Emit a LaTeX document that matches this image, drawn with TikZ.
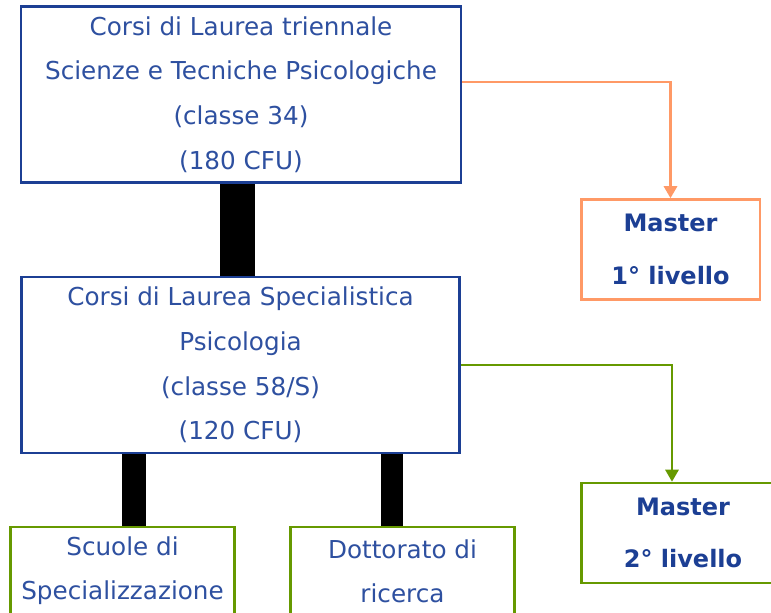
\documentclass[tikz,border=0pt]{standalone}
\usepackage{fontspec}
\setmainfont{DejaVu Sans}
\usepackage{tikz}
\usetikzlibrary{calc, arrows.meta, positioning}

\definecolor{boxblue}{RGB}{28,63,148}
\definecolor{textblue}{RGB}{46,80,160}
\definecolor{mastorange}{RGB}{255,153,102}
\definecolor{mastgreen}{RGB}{102,153,0}

\begin{document}
\begin{tikzpicture}[
  x=0.75pt, y=-0.75pt,
  corso/.style={
    draw=boxblue,
    line width=2.2pt,
    fill=white,
    inner sep=0pt,
    minimum width=#1,
    minimum height=132pt,
    align=center,
    text=textblue,
    font=\fontsize{18.5}{33.6}\selectfont
    },
  master/.style={
    draw=#1,
    line width=2pt,
    fill=white,
    inner sep=0pt,
    minimum height=75pt,
    align=center,
    text=boxblue,
    font=\fontsize{18}{39.5}\selectfont\bfseries
    },
  sbocco/.style={
    draw=mastgreen,
    line width=2pt,
    fill=white,
    inner sep=0pt,
    minimum width=168pt,
    minimum height=66pt,
    align=center,
    text=textblue,
    font=\fontsize{18.5}{33}\selectfont
    },
  stem/.style={line width=#1, draw=black},
  freccia/.style={draw=#1, line width=1.6pt, -{Triangle[width=10pt,length=9pt]}}
]

\useasboundingbox (0,0) rectangle (771,613);

% corsi di laurea
\node[corso=330pt] (triennale) at (241,94.5)
  {Corsi di Laurea triennale\\
   Scienze e Tecniche Psicologiche\\
   (classe 34)\\
   (180 CFU)};

\node[corso=329pt] (specialistica) at (240.5,365)
  {Corsi di Laurea Specialistica\\
   Psicologia\\
   (classe 58/S)\\
   (120 CFU)};

% master
\node[master=mastorange, minimum width=134pt] (master1) at (670.5,249.5)
  {Master\\ 1° livello};

\node[master=mastgreen, minimum width=152pt] (master2) at (683,533)
  {Master\\ 2° livello};

% sbocchi dopo la specialistica
\node[sbocco] (scuole) at (122.5,571)
  {Scuole di\\ Specializzazione};

\node[sbocco] (dottorato) at (402.5,571)
  {Dottorato di\\ ricerca};

% collegamenti
\draw[stem=26pt] ($(triennale.south)+(-3.5,0)$) coordinate (t1)
  -- (t1 |- specialistica.north);
\draw[stem=18pt] ($(scuole.north)+(11,0)$) coordinate (s1)
  -- (s1 |- specialistica.south);
\draw[stem=16.5pt] ($(dottorato.north)+(-10.5,0)$) coordinate (d1)
  -- (d1 |- specialistica.south);

\draw[freccia=mastorange] ($(triennale.east)+(0,-12.5)$) -| (master1.north);
\draw[freccia=mastgreen] (specialistica.east) -| ($(master2.north)+(-11,0)$);

\end{tikzpicture}
\end{document}
